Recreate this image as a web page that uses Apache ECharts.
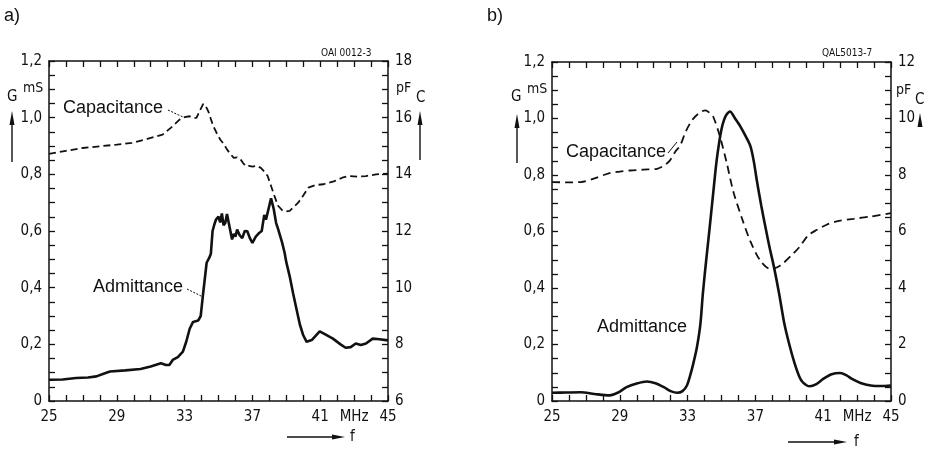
<!DOCTYPE html>
<html><head><meta charset="utf-8">
<script src="https://cdn.jsdelivr.net/npm/echarts/dist/echarts.min.js"></script>
<style>html,body{margin:0;padding:0;background:#fff}#c{width:935px;height:449px}</style>
</head><body><div id="c"></div>
<script>
// ---- data ----
const xLabelValues = [25, 29, 33, 37, 41, 43, 45];
const xLabelTexts  = ['25', '29', '33', '37', '41', 'MHz', '45'];
const gLabelValues = [0, 0.2, 0.4, 0.6, 0.8, 1.0, 1.2];
const gLabelTexts  = ['0', '0,2', '0,4', '0,6', '0,8', '1,0', '1,2'];
const capLabelsA = [6, 8, 10, 12, 14, 16, 18];
const capLabelsB = [0, 2, 4, 6, 8, 10, 12];

// panel a) admittance G (mS) vs f (MHz)
const admittanceA = [[25,0.075],[25.8,0.076],[26.6,0.081],[27.3,0.083],[27.8,0.087],[28.3,0.098],[28.6,0.104],[29.5,0.108],[30.4,0.113],[31.0,0.122],[31.6,0.133],[31.9,0.127],[32.1,0.127],[32.3,0.145],[32.6,0.155],[32.9,0.174],[33.1,0.21],[33.3,0.255],[33.5,0.279],[33.8,0.284],[33.95,0.30],[34.1,0.383],[34.3,0.488],[34.45,0.505],[34.55,0.52],[34.65,0.6],[34.75,0.622],[34.85,0.64],[35.0,0.651],[35.1,0.63],[35.2,0.662],[35.3,0.62],[35.4,0.628],[35.5,0.66],[35.6,0.657],[35.7,0.6],[35.8,0.57],[35.9,0.59],[36.0,0.58],[36.1,0.605],[36.25,0.585],[36.4,0.575],[36.55,0.6],[36.7,0.599],[36.85,0.575],[37.0,0.558],[37.2,0.58],[37.4,0.593],[37.55,0.6],[37.7,0.657],[37.8,0.64],[37.9,0.64],[38.0,0.69],[38.1,0.715],[38.25,0.68],[38.4,0.628],[38.5,0.61],[38.6,0.605],[38.75,0.56],[38.9,0.523],[39.0,0.49],[39.2,0.44],[39.4,0.38],[39.6,0.325],[39.8,0.27],[40.0,0.232],[40.2,0.209],[40.5,0.215],[40.97,0.246],[41.3,0.235],[41.75,0.22],[42.2,0.2],[42.5,0.188],[42.8,0.19],[43.1,0.203],[43.4,0.198],[43.7,0.203],[44.1,0.22],[44.5,0.218],[45,0.214]];
// panel a) capacitance C (pF)
const capacitanceA = [[25,14.72],[26,14.83],[27,14.93],[28,14.99],[29,15.05],[29.9,15.11],[30.8,15.25],[31.7,15.40],[32.2,15.65],[32.7,15.93],[33.0,16.02],[33.3,16.05],[33.5,16.0],[33.7,15.99],[33.9,16.25],[34.1,16.49],[34.25,16.4],[34.4,16.22],[34.55,15.95],[34.7,15.69],[34.9,15.45],[35.1,15.23],[35.3,15.08],[35.5,14.88],[35.7,14.72],[35.9,14.58],[36.1,14.6],[36.3,14.53],[36.45,14.4],[36.6,14.29],[36.8,14.3],[37.0,14.27],[37.25,14.3],[37.5,14.23],[37.7,14.1],[37.9,13.94],[38.1,13.59],[38.3,13.24],[38.5,12.9],[38.8,12.71],[39.0,12.69],[39.2,12.71],[39.7,13.0],[40.0,13.25],[40.3,13.53],[40.7,13.62],[41.2,13.65],[41.8,13.75],[42.3,13.88],[42.7,13.94],[43.2,13.92],[43.7,13.94],[44.3,14.0],[45,14.02]];

// panel b) admittance G (mS)
const admittanceB = [[25,0.029],[25.8,0.03],[26.7,0.031],[27.5,0.025],[28.4,0.02],[28.9,0.03],[29.4,0.049],[30.0,0.062],[30.6,0.069],[31.1,0.063],[31.6,0.049],[32.0,0.035],[32.4,0.029],[32.7,0.035],[32.96,0.055],[33.15,0.09],[33.35,0.136],[33.55,0.19],[33.75,0.27],[33.9,0.38],[34.1,0.5],[34.3,0.613],[34.5,0.73],[34.7,0.845],[34.85,0.91],[35.0,0.962],[35.15,0.995],[35.3,1.014],[35.5,1.025],[35.8,1.0],[36.1,0.973],[36.4,0.94],[36.7,0.903],[36.9,0.85],[37.1,0.775],[37.35,0.69],[37.6,0.613],[37.85,0.54],[38.1,0.473],[38.4,0.38],[38.7,0.276],[39.0,0.2],[39.3,0.136],[39.6,0.085],[39.8,0.066],[40.2,0.052],[40.6,0.06],[41.0,0.078],[41.5,0.095],[42.0,0.099],[42.4,0.09],[42.7,0.078],[43.2,0.064],[43.8,0.055],[44.4,0.053],[45,0.055]];
// panel b) capacitance C (pF)
const capacitanceB = [[25,7.75],[25.8,7.74],[26.7,7.75],[27.5,7.88],[28.4,8.07],[29.0,8.12],[29.6,8.16],[30.4,8.19],[31.2,8.22],[31.6,8.33],[31.95,8.51],[32.3,8.85],[32.55,9.03],[32.9,9.55],[33.3,9.97],[33.7,10.2],[34.05,10.29],[34.3,10.2],[34.5,10.08],[34.9,9.38],[35.3,8.45],[35.7,7.41],[36.2,6.48],[36.7,5.66],[37.3,4.96],[37.9,4.67],[38.45,4.79],[39.2,5.20],[39.6,5.45],[40.1,5.85],[40.6,6.05],[41.2,6.24],[41.8,6.36],[42.8,6.45],[43.8,6.53],[45,6.65]];

// ---- chart ----
const tickFont = "'Liberation Sans Narrow','DejaVu Sans Condensed','Roboto Condensed',sans-serif";
const INK = '#111';
function pick(vals, texts, v) {
  for (let i = 0; i < vals.length; i++) if (Math.abs(vals[i] - v) < 1e-6) return texts[i];
  return '';
}
function xAx(grid, pos) {
  return {
    type: 'value', gridIndex: grid, position: pos, min: 25, max: 45, interval: 1,
    axisLine: { show: true, onZero: false, lineStyle: { color: INK, width: 1.5 } },
    axisTick: { show: true, inside: true, length: 6, lineStyle: { color: INK, width: 1.3 } },
    splitLine: { show: false },
    axisLabel: { show: pos === 'bottom', margin: 9, color: INK, fontFamily: tickFont, fontSize: 15,
      formatter: v => pick(xLabelValues, xLabelTexts, v) }
  };
}
function yAx(grid, pos, min, max, interval, vals, texts) {
  return {
    type: 'value', gridIndex: grid, position: pos, min: min, max: max, interval: interval,
    axisLine: { show: true, onZero: false, lineStyle: { color: INK, width: 1.5 } },
    axisTick: { show: true, inside: true, length: 6, lineStyle: { color: INK, width: 1.3 } },
    splitLine: { show: false },
    axisLabel: { show: true, margin: 7, color: INK, fontFamily: tickFont, fontSize: 15,
      formatter: v => pick(vals, texts, v) }
  };
}
const capTextsA = capLabelsA.map(String);
const capTextsB = capLabelsB.map(String);

function txt(x, y, s, size, opts) {
  return { type: 'text', x: x, y: y, style: Object.assign({ text: s, fill: INK,
    font: size + 'px Arial, "Liberation Sans", sans-serif', textVerticalAlign: 'middle' }, opts || {}) };
}
function smallTxt(x, y, s, size, opts) {
  return { type: 'text', x: x, y: y, style: Object.assign({ text: s, fill: INK,
    font: size + 'px ' + tickFont, textVerticalAlign: 'middle' }, opts || {}) };
}
function vArrow(x, tipY, headLen, lineEnd) {
  const els = [{ type: 'polygon', shape: { points: [[x, tipY], [x - 2.5, tipY + headLen], [x + 2.5, tipY + headLen]] }, style: { fill: INK } }];
  if (lineEnd) els.push({ type: 'line', shape: { x1: x, y1: tipY + headLen, x2: x, y2: lineEnd }, style: { stroke: INK, lineWidth: 1.4 } });
  return els;
}
function hArrow(x1, x2, y) {
  return [
    { type: 'line', shape: { x1: x1, y1: y, x2: x2 - 10, y2: y }, style: { stroke: INK, lineWidth: 1.4 } },
    { type: 'polygon', shape: { points: [[x2, y], [x2 - 13, y - 2.5], [x2 - 13, y + 2.5]] }, style: { fill: INK } }
  ];
}

const graphic = [
  txt(4, 16, 'a)', 18),
  txt(487, 16, 'b)', 18),
  // panel a annotations
  smallTxt(321, 53, 'OAI 0012-3', 10),
  smallTxt(7, 97, 'G', 15, { fontStyle: 'italic' }),
  smallTxt(23, 88, 'mS', 14),
  smallTxt(396, 88, 'pF', 14),
  smallTxt(416, 98, 'C', 15, { fontStyle: 'italic' }),
  ...vArrow(12, 111, 14, 162),
  ...vArrow(420, 111, 14, 160),
  ...hArrow(287, 345, 437),
  smallTxt(350, 437, 'f', 15, { fontStyle: 'italic' }),
  txt(63, 108, 'Capacitance', 18),
  { type: 'line', shape: { x1: 168, y1: 110, x2: 183, y2: 117 }, style: { stroke: INK, lineWidth: 1, lineDash: [2, 1.5] } },
  txt(93, 287, 'Admittance', 18),
  { type: 'line', shape: { x1: 187, y1: 289, x2: 203, y2: 297 }, style: { stroke: INK, lineWidth: 1, lineDash: [2, 1.5] } },
  // panel b annotations
  smallTxt(822, 53, 'QAL5013-7', 10),
  smallTxt(511, 97, 'G', 15, { fontStyle: 'italic' }),
  smallTxt(527, 89, 'mS', 14),
  smallTxt(896, 90, 'pF', 14),
  smallTxt(915, 100, 'C', 15, { fontStyle: 'italic' }),
  ...vArrow(517, 114, 14, 163),
  ...vArrow(920, 113, 14, null),
  ...hArrow(788, 847, 442),
  smallTxt(854, 442, 'f', 15, { fontStyle: 'italic' }),
  txt(566, 152, 'Capacitance', 18),
  { type: 'line', shape: { x1: 668, y1: 153, x2: 677, y2: 142 }, style: { stroke: INK, lineWidth: 1 } },
  txt(597, 327, 'Admittance', 18)
];

const chart = echarts.init(document.getElementById('c'), null, { renderer: 'canvas' });
chart.setOption({
  animation: false,
  backgroundColor: '#fff',
  grid: [
    { left: 49, top: 61, width: 339, height: 340, containLabel: false },
    { left: 552, top: 62, width: 339, height: 339, containLabel: false }
  ],
  xAxis: [xAx(0, 'bottom'), xAx(0, 'top'), xAx(1, 'bottom'), xAx(1, 'top')],
  yAxis: [
    yAx(0, 'left', 0, 1.2, 0.05, gLabelValues, gLabelTexts),
    yAx(0, 'right', 6, 18, 0.5, capLabelsA, capTextsA),
    yAx(1, 'left', 0, 1.2, 0.05, gLabelValues, gLabelTexts),
    yAx(1, 'right', 0, 12, 0.5, capLabelsB, capTextsB)
  ],
  series: [
    { name: 'Admittance a', type: 'line', xAxisIndex: 0, yAxisIndex: 0, data: admittanceA,
      showSymbol: false, lineStyle: { color: INK, width: 2.6 } },
    { name: 'Capacitance a', type: 'line', xAxisIndex: 0, yAxisIndex: 1, data: capacitanceA,
      showSymbol: false, lineStyle: { color: INK, width: 1.8, type: [7, 4] } },
    { name: 'Admittance b', type: 'line', xAxisIndex: 2, yAxisIndex: 2, data: admittanceB,
      showSymbol: false, smooth: 0.3, lineStyle: { color: INK, width: 2.6 } },
    { name: 'Capacitance b', type: 'line', xAxisIndex: 2, yAxisIndex: 3, data: capacitanceB,
      showSymbol: false, smooth: 0.3, lineStyle: { color: INK, width: 1.8, type: [8, 5] } }
  ],
  graphic: graphic
});
</script>
</body></html>
